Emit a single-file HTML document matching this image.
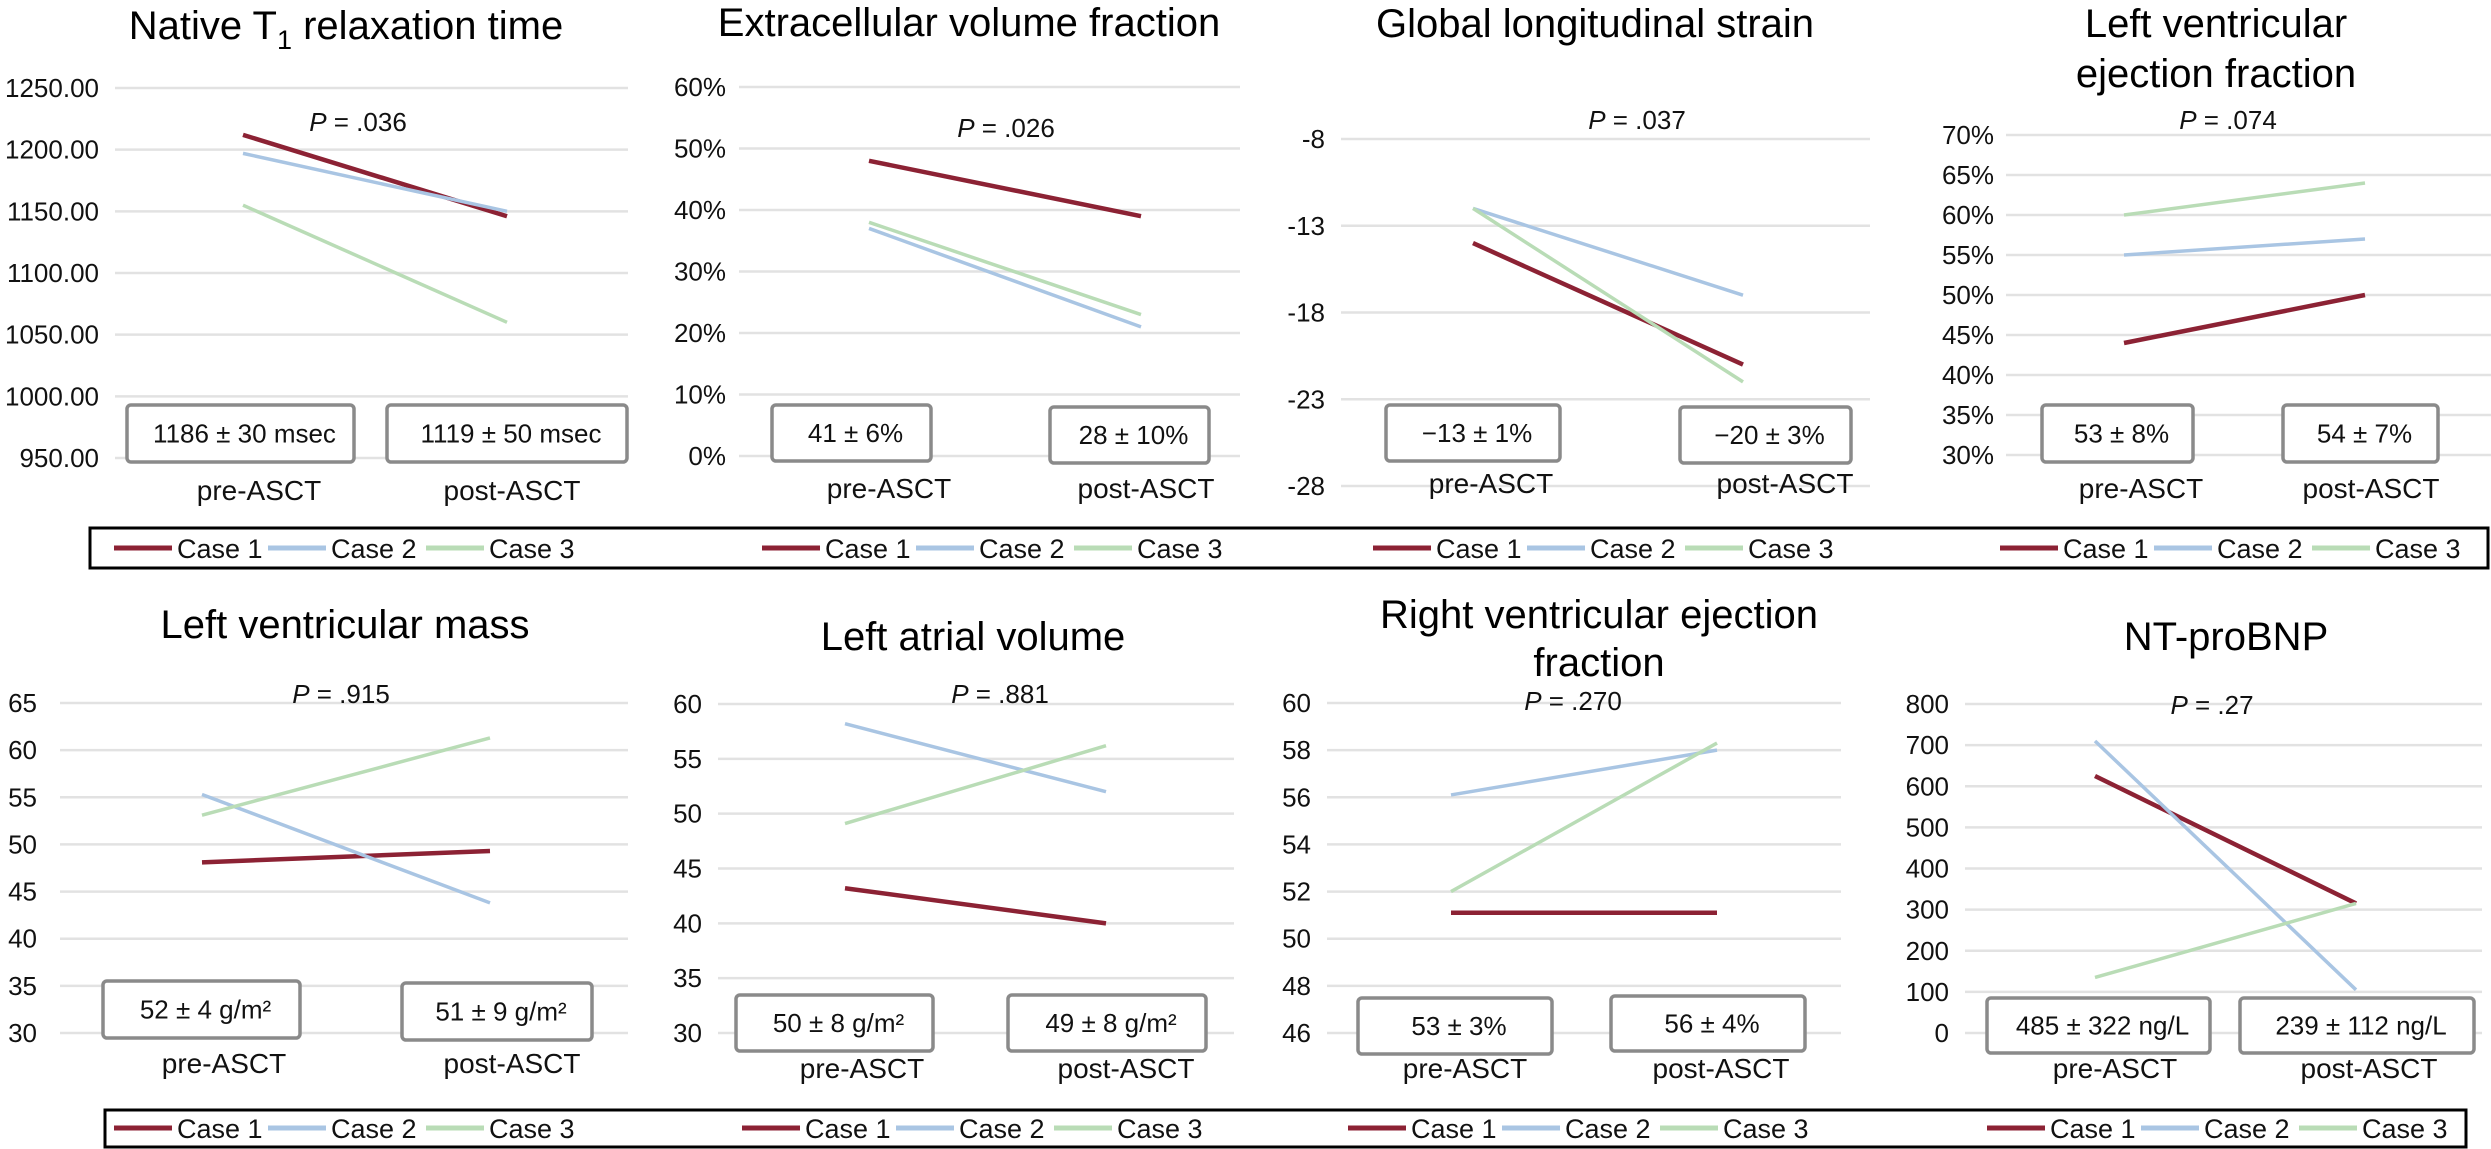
<!DOCTYPE html>
<html><head><meta charset="utf-8">
<style>
html,body{margin:0;padding:0;background:#fff;}
svg{display:block;font-family:"Liberation Sans",Arial,sans-serif;}
</style></head>
<body>
<svg id="fig" width="2491" height="1149" viewBox="0 0 2491 1149" xmlns="http://www.w3.org/2000/svg">
<rect x="0" y="0" width="2491" height="1149" fill="#fff"/>
</svg>
<script>
// ---- data ----
const categories = ["pre-ASCT", "post-ASCT"];
const seriesNames = ["Case 1", "Case 2", "Case 3"];
const panelKeys = ["native-t1", "ecv", "gls", "lvef", "lv-mass", "la-volume", "rvef", "nt-probnp"];
const case1Pre  = [1212, 48, -14, 44, 48.1, 43.2, 51.1, 625];
const case1Post = [1146, 39, -21, 50, 49.3, 40.0, 51.1, 315];
const case2Pre  = [1197, 37, -12, 55, 55.3, 58.2, 56.1, 710];
const case2Post = [1150, 21, -17, 57, 43.8, 52.0, 58.0, 105];
const case3Pre  = [1155, 38, -12, 60, 53.1, 49.1, 52.0, 135];
const case3Post = [1060, 23, -22, 64, 61.3, 56.2, 58.3, 315];
const tickMin  = [950, 0, -28, 30, 30, 30, 46, 0];
const tickMax  = [1250, 60, -8, 70, 65, 60, 60, 800];
const tickStep = [50, 10, 5, 5, 5, 5, 2, 100];
const tickFormat = ["fixed2", "pct", "int", "pct", "int", "int", "int", "int"];
const pValues = ["P = .036", "P = .026", "P = .037", "P = .074", "P = .915", "P = .881", "P = .270", "P = .27"];
const summaryPre  = ["1186 ± 30 msec", "41 ±  6%", "\u221213 ±  1%", "53 ±  8%", "52 ± 4 g/m²", "50 ± 8 g/m²", "53 ± 3%", "485 ± 322 ng/L"];
const summaryPost = ["1119 ± 50 msec", "28 ±  10%", "\u221220 ±  3%", "54 ±  7%", "51 ± 9 g/m²", "49 ± 8 g/m²", "56 ± 4%", "239 ± 112 ng/L"];

// ---- layout (pixel geometry) ----
const L = [
 {title:[["Native T","1"," relaxation time"]], tx:346, ty:[39], yTop:88, yBot:458, lab:99, gL:115, gR:628, x0:243, x1:507, p:[358,131],
  b:[[127,405,227,57],[387,405,240,57]], c:[259,512,500], lg:114},
 {title:[["Extracellular volume fraction"]], tx:969, ty:[36], yTop:87, yBot:456, lab:726, gL:739, gR:1240, x0:869, x1:1141, p:[1006,137],
  b:[[772,405,159,56],[1050,407,159,56]], c:[889,1146,498], lg:762},
 {title:[["Global longitudinal strain"]], tx:1595, ty:[37], yTop:139, yBot:486, lab:1325, gL:1341, gR:1870, x0:1473, x1:1743, p:[1637,129],
  b:[[1386,405,174,56],[1680,407,171,56]], c:[1491,1785,493], lg:1373},
 {title:[["Left ventricular"],["ejection fraction"]], tx:2216, ty:[37,87], yTop:135, yBot:455, lab:1994, gL:2006, gR:2491, x0:2124, x1:2365, p:[2228,129],
  b:[[2042,405,151,57],[2283,405,155,57]], c:[2141,2371,498], lg:2000},
 {title:[["Left ventricular mass"]], tx:345, ty:[638], yTop:703, yBot:1033, lab:37, gL:60, gR:628, x0:202, x1:490, p:[341,703],
  b:[[103,981,197,57],[402,983,190,57]], c:[224,512,1073], lg:114},
 {title:[["Left atrial volume"]], tx:973, ty:[650], yTop:704, yBot:1033, lab:702, gL:718, gR:1234, x0:845, x1:1106, p:[1000,703],
  b:[[736,995,197,56],[1008,995,198,56]], c:[862,1126,1078], lg:742},
 {title:[["Right ventricular ejection"],["fraction"]], tx:1599, ty:[628,676], yTop:703, yBot:1033, lab:1311, gL:1327, gR:1841, x0:1451, x1:1717, p:[1573,710],
  b:[[1358,998,194,56],[1611,996,194,55]], c:[1465,1721,1078], lg:1348},
 {title:[["NT-proBNP"]], tx:2226, ty:[650], yTop:704, yBot:1033, lab:1949, gL:1965, gR:2482, x0:2095, x1:2356, p:[2212,714],
  b:[[1987,998,223,55],[2240,998,234,55]], c:[2115,2369,1078], lg:1987}
];
const colors = ["#8c2234", "#a9c5e3", "#b9dcb6"];
const widths = [4.5, 3.5, 3.5];

const NS = "http://www.w3.org/2000/svg";
const svg = document.getElementById("fig");
function mk(tag, attrs, parent) {
  const e = document.createElementNS(NS, tag);
  for (const k in attrs) e.setAttribute(k, attrs[k]);
  (parent || svg).appendChild(e);
  return e;
}
function fmt(v, f) {
  if (f === "fixed2") return v.toFixed(2);
  if (f === "pct") return v + "%";
  return String(v);
}

// legend frames
const lf1 = mk("rect", {x:90, y:528, width:2398, height:40, fill:"none", stroke:"#000", "stroke-width":3});


const lf2 = mk("rect", {x:105, y:1110, width:2361, height:37, fill:"none", stroke:"#000", "stroke-width":3});



const seriesPre = [case1Pre, case2Pre, case3Pre];
const seriesPost = [case1Post, case2Post, case3Post];

for (let i = 0; i < L.length; i++) {
  const g = L[i];
  const key = panelKeys[i];
  const grp = mk("g", {});
  
  
  const lo = tickMin[i], hi = tickMax[i];
  const yScale = v => g.yBot + (v - lo) / (hi - lo) * (g.yTop - g.yBot);
  const xScale = c => c === 0 ? g.x0 : g.x1;

  // gridlines + tick labels
  for (let v = lo; v <= hi + 1e-9; v += tickStep[i]) {
    const y = yScale(v);
    const gl = mk("line", {x1:g.gL, x2:g.gR, y1:y, y2:y, stroke:"#e2e2e2", "stroke-width":2.5}, grp);
    
    
    const tl = mk("text", {x:g.lab, y:y + 9, "text-anchor":"end", "font-size":26, fill:"#111"}, grp);
    tl.textContent = fmt(v, tickFormat[i]);
    
    
  }

  // title
  g.title.forEach((parts, li) => {
    const t = mk("text", {x:g.tx, y:g.ty[li], "text-anchor":"middle", "font-size":40, fill:"#000"}, grp);
    
    
    if (parts.length === 1) { t.textContent = parts[0]; }
    else {
      const a = mk("tspan", {}, t); a.textContent = parts[0];
      const b = mk("tspan", {dy:10, "font-size":27}, t); b.textContent = parts[1];
      const c = mk("tspan", {dy:-10}, t); c.textContent = parts[2];
    }
  });

  // series lines
  for (let s = 0; s < 3; s++) {
    const ln = mk("line", {x1:xScale(0), y1:yScale(seriesPre[s][i]), x2:xScale(1), y2:yScale(seriesPost[s][i]),
      stroke:colors[s], "stroke-width":widths[s], "stroke-linecap":"butt"}, grp);
    
    
  }

  // p value
  const pv = mk("text", {x:g.p[0], y:g.p[1], "text-anchor":"middle", "font-size":26, fill:"#111"}, grp);
  
  
  const pv1 = mk("tspan", {"font-style":"italic"}, pv); pv1.textContent = "P";
  const pv2 = mk("tspan", {}, pv); pv2.textContent = pValues[i].slice(1);

  // summary boxes
  const sums = [summaryPre[i], summaryPost[i]];
  g.b.forEach((bx, k) => {
    const r = mk("rect", {x:bx[0], y:bx[1], width:bx[2], height:bx[3], rx:4, fill:"#fff", stroke:"#8a8a8a", "stroke-width":3.5}, grp);
    
    
    const t = mk("text", {x:bx[0] + bx[2] / 2 + 4, y:bx[1] + bx[3] / 2 + 9, "text-anchor":"middle", "font-size":26, fill:"#111", "xml:space":"preserve"}, grp);
    t.textContent = sums[k];
    
    
  });

  // category labels
  categories.forEach((c, k) => {
    const t = mk("text", {x:g.c[k], y:g.c[2], "text-anchor":"middle", "font-size":28, fill:"#111"}, grp);
    t.textContent = c;
    
    
  });

  // legend
  const ly = i < 4 ? 548 : 1128;
  const offs = [0, 154, 312];
  seriesNames.forEach((nm, s) => {
    const lx = g.lg + offs[s];
    const seg = mk("line", {x1:lx, x2:lx + 58, y1:ly, y2:ly, stroke:colors[s], "stroke-width":5}, grp);
    
    
    const t = mk("text", {x:lx + 63, y:ly + 10, "font-size":27, fill:"#111"}, grp);
    t.textContent = nm;
    
    
  });
}
</script>
</body></html>
